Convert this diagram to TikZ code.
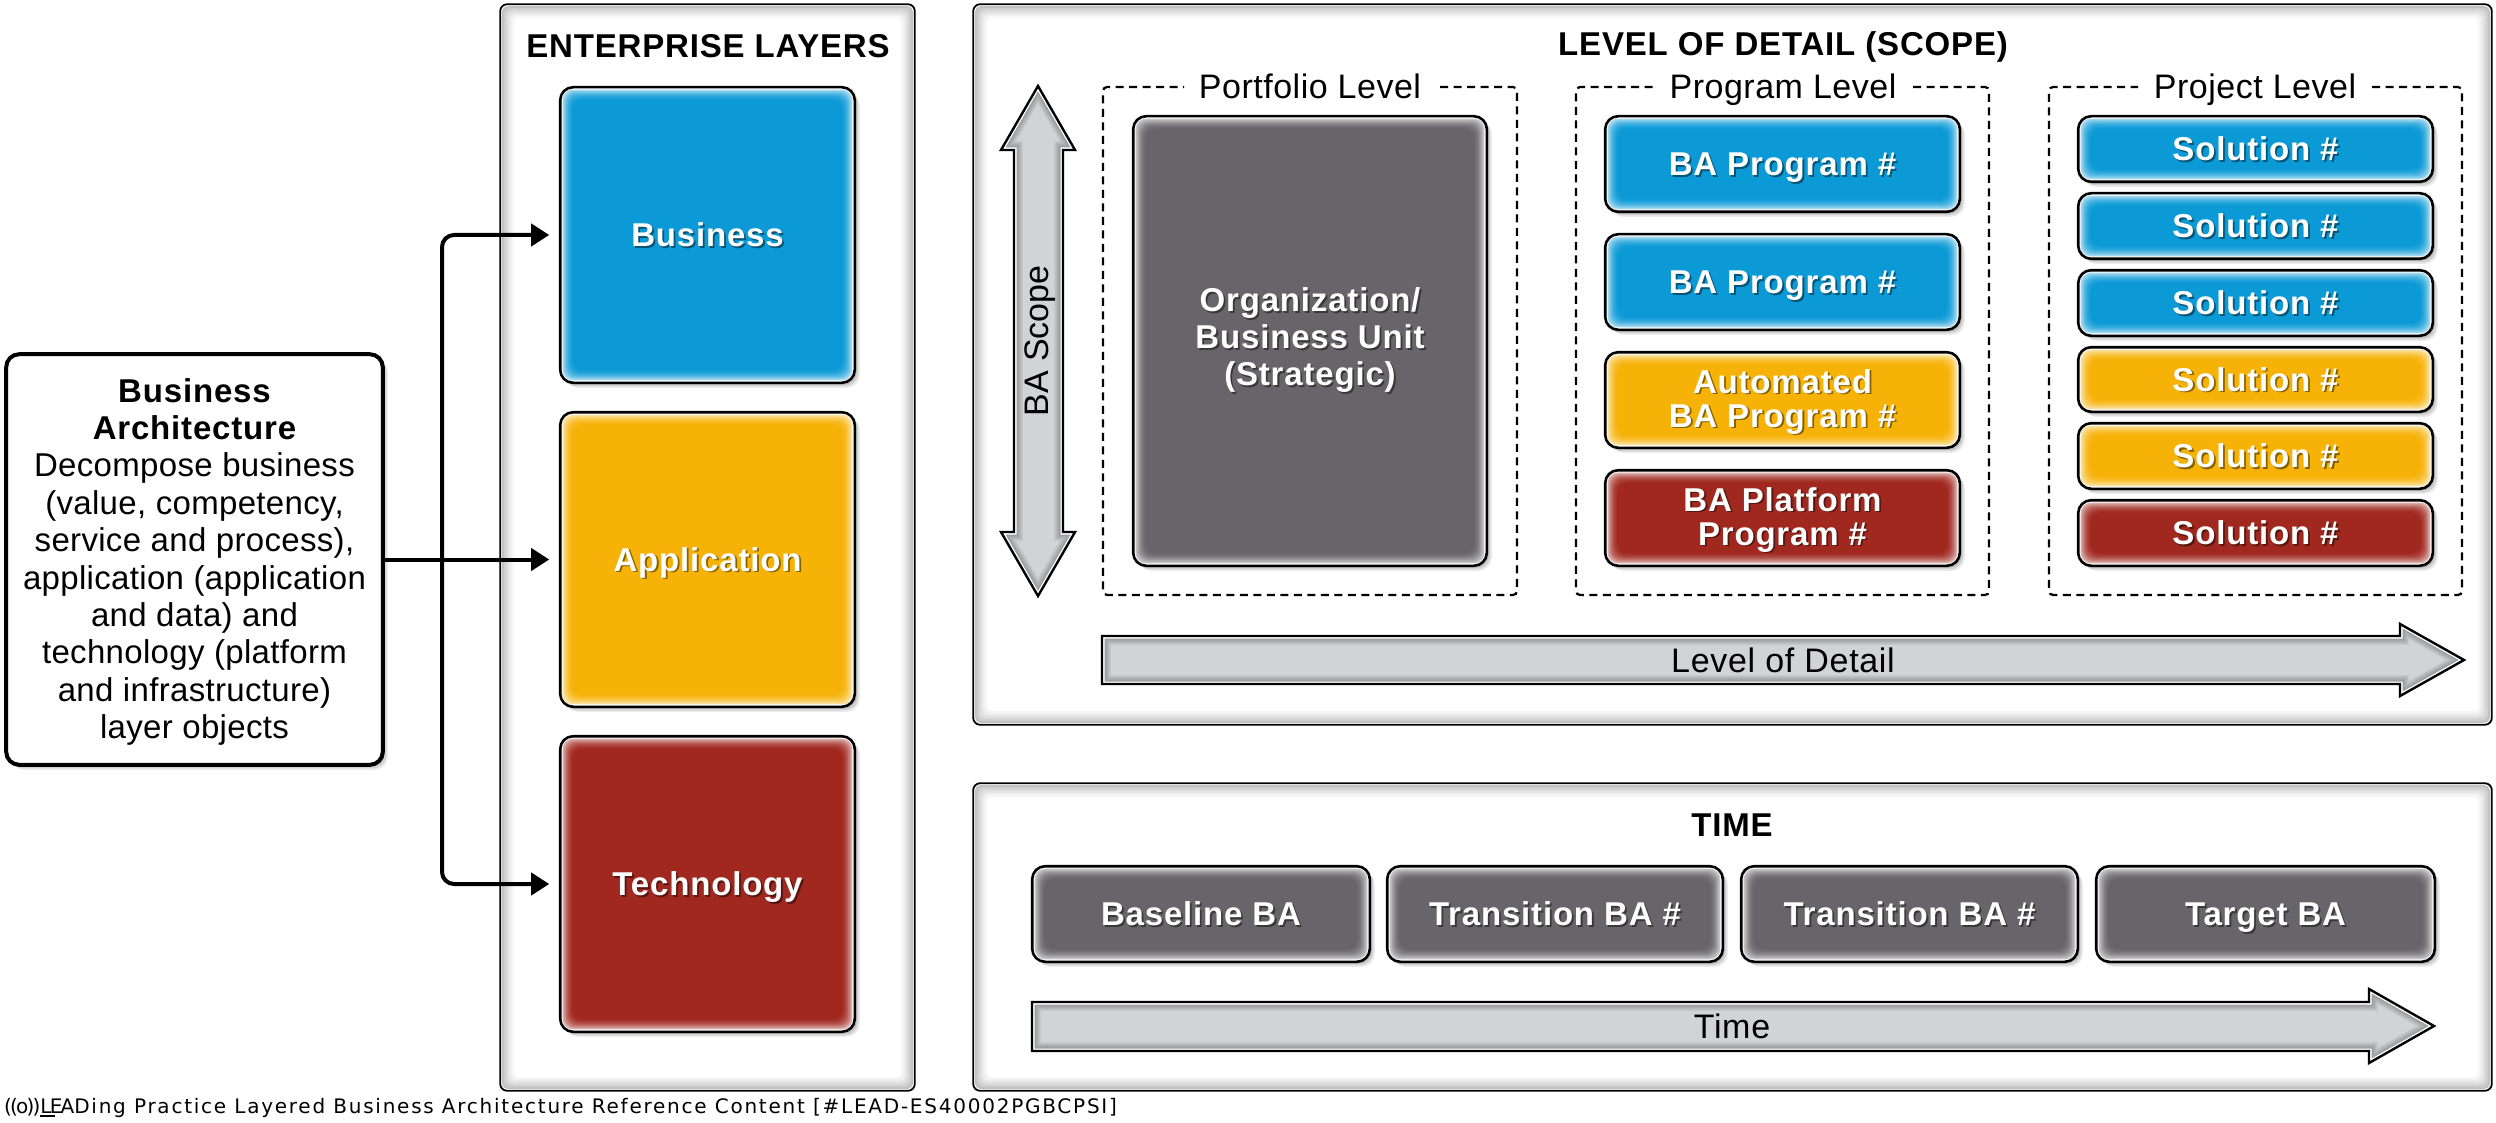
\documentclass[tikz,border=0pt]{standalone}
\usepackage{fontspec}
\usetikzlibrary{arrows.meta,calc}
\setmainfont{Liberation Sans}
\newfontfamily\trk[LetterSpace=2.5]{Liberation Sans}
\newfontfamily\trkb[LetterSpace=1]{Liberation Sans}
\newfontfamily\trkc[LetterSpace=1.5]{Liberation Sans}
\newfontfamily\trkd[LetterSpace=2]{Liberation Sans}
\newfontfamily\footf[LetterSpace=8.8]{DejaVu Sans}
\newfontfamily\logof[LetterSpace=-9]{DejaVu Sans}
\definecolor{cblue}{HTML}{0C9AD7}
\definecolor{cyellow}{HTML}{F6B207}
\definecolor{cred}{HTML}{A0281F}
\definecolor{cgrey}{HTML}{676569}
\definecolor{cbar}{HTML}{D1D3D4}
\colorlet{shd}{black}
\newcommand\sh[1]{\leavevmode\raisebox{0pt}[23pt][0pt]{\rlap{\kern1.8pt\raisebox{-1.8pt}{\textcolor{shd}{#1}}}#1}}
\newcommand\placed[7]{%
  \pgfmathsetmacro\bw{#4-#2-2.4}\pgfmathsetmacro\bh{#5-#3-2.4}%
  \pgfmathsetmacro\cx{(#2+#4)/2}\pgfmathsetmacro\cy{(#3+#5)/2}%
  \node[#6,minimum width=\bw pt,minimum height=\bh pt] (#1) at (\cx,\cy) {#7};}
\newcommand\glossarrow[1]{%
  \begin{scope}
    \clip #1;
    \fill[cbar] #1;
    \foreach \w in {8,10,12,14,16,18}{\draw[line width=\w pt,black,opacity=.045,miter limit=20] #1;}
    \draw[white,line width=5pt,miter limit=20] #1;
  \end{scope}
  \draw[black,line width=2.4pt,line join=miter] #1;}
\newcommand\dashedbox[6]{% x1 x2 gapL gapR y1 y2
  \draw[dashbox] (#4,#5) -- (#2,#5) -- (#2,#6) -- (#1,#6) -- (#1,#5) -- (#3,#5);}
\tikzset{
  lifted/.style={
    preaction={fill=black,opacity=.10,transform canvas={shift={(2pt,-2pt)}}},
    preaction={fill=black,opacity=.10,transform canvas={shift={(3.5pt,-3.5pt)}}},
    preaction={fill=black,opacity=.08,transform canvas={shift={(5pt,-5pt)}}}},
  gloss/.style={lifted,draw=black,line width=2.6pt,rounded corners=13pt,fill=white,
    inner sep=0pt,outer sep=0pt,align=center,text=white,
    font=\trk\bfseries\fontsize{33}{34}\selectfont,
    execute at begin node={\colorlet{shd}{#1!55!black}},
    path picture={
      \foreach \i/\p in {2.5/35,3.5/45,4.5/55,5.5/64,6.5/72,7.5/79,8.5/85,9.5/90,10.5/94,11.5/97,12.5/100}{
        \fill[#1!\p!white,rounded corners=10pt]
          ([shift={(\i pt,-\i pt)}]path picture bounding box.north west) rectangle
          ([shift={(-\i pt,\i pt)}]path picture bounding box.south east);}}},
  panel/.style={draw=black,line width=1.8pt,rounded corners=7pt,fill=white,inner sep=0pt,outer sep=0pt,
    path picture={
      \foreach \i/\p in {2/24,4/19,6/14,8/10,10/6,12/3,14/0}{
        \fill[black!\p!white,rounded corners=5pt]
          ([shift={(\i pt,-\i pt)}]path picture bounding box.north west) rectangle
          ([shift={(-\i pt,\i pt)}]path picture bounding box.south east);}}},
  infobox/.style={lifted,draw=black,line width=4pt,rounded corners=13pt,fill=white,inner sep=0pt,outer sep=0pt,
    align=center,font=\trkb\fontsize{33}{37.4}\selectfont},
  title/.style={font=\trk\bfseries\fontsize{33}{37}\selectfont,inner sep=0pt},
  lvl/.style={font=\trkc\fontsize{34}{38}\selectfont,inner sep=0pt,text height=24pt,text depth=0pt},
  barlabel/.style={font=\trkd\fontsize{34}{38}\selectfont,inner sep=0pt},
  dashbox/.style={draw=black,line width=2.2pt,dash pattern=on 8pt off 5.5pt,rounded corners=4pt},
  conn/.style={draw=black,line width=4pt,-{Triangle[length=18pt,width=22pt]},shorten >=11pt,rounded corners=12pt},
}
\begin{document}
\begin{tikzpicture}[x=1pt,y=-1pt]
\useasboundingbox (0,0) rectangle (2496,1123);
\fill[white] (0,0) rectangle (2496,1123);
% panels
\placed{pEnt}{499}{3}{916}{1092}{panel}{}
\placed{pLod}{972}{3}{2493}{726}{panel}{}
\placed{pTime}{972}{782}{2493}{1092}{panel}{}
\node[title] (tEnt) at (708,46) {ENTERPRISE LAYERS};
\node[title] (tLod) at (1783,47) {LEVEL OF DETAIL (SCOPE)};
\node[title] (tTime) at (1732,825) {TIME};
% layer boxes
\placed{biz}{559}{86}{856}{384}{gloss=cblue}{\sh{Business}}
\placed{app}{559}{411}{856}{708}{gloss=cyellow}{\sh{Application}}
\placed{tec}{559}{735}{856}{1033}{gloss=cred}{\sh{Technology}}
% info box
\placed{ba}{5}{353}{384}{766}{infobox}{\begin{tabular}{@{}c@{}}\rule{0pt}{33pt}{\trk\bfseries Business}\\{\trk\bfseries Architecture}\\Decompose business\\(value, competency,\\service and process),\\application (application\\and data) and\\technology (platform\\and infrastructure)\\layer objects\end{tabular}}
% connectors
\coordinate (branch) at (442,559.5);
\draw[conn] (ba.east) -- (app.west);
\draw[conn] (branch) |- (biz.west);
\draw[conn] (branch) |- (tec.west);
% BA scope arrow
\glossarrow{(1038,86) -- (1075,150) -- (1063,150) -- (1063,532) -- (1075,532) -- (1038,596) -- (1001,532) -- (1014,532) -- (1014,150) -- (1001,150) -- cycle}
\node[rotate=90,inner sep=0pt,font=\fontsize{34}{38}\selectfont,text height=24pt,text depth=0pt] (lScope) at (1036,341) {BA Scope};
% dashed groups
\dashedbox{1103}{1517}{1184}{1440}{87}{595}
\dashedbox{1576}{1989}{1655}{1913}{87}{595}
\dashedbox{2049}{2462}{2138}{2372}{87}{595}
\node[lvl] (lPort) at (1310,87) {Portfolio Level};
\node[lvl] (lProg) at (1783,87) {Program Level};
\node[lvl] (lProj) at (2255,87) {Project Level};
% portfolio
\placed{org}{1132}{115}{1488}{567}{gloss=cgrey}{\fontsize{33}{37}\selectfont\begin{tabular}{@{}c@{}}\sh{Organization/}\\\sh{Business Unit}\\\sh{(Strategic)}\end{tabular}}
% programs
\placed{prg1}{1604}{115}{1961}{213}{gloss=cblue}{\sh{BA Program \#}}
\placed{prg2}{1604}{233}{1961}{331}{gloss=cblue}{\sh{BA Program \#}}
\placed{prg3}{1604}{351}{1961}{449}{gloss=cyellow}{\sh{Automated}\\\sh{BA Program \#}\rule[-3pt]{0pt}{3pt}}
\placed{prg4}{1604}{469}{1961}{567}{gloss=cred}{\sh{BA Platform}\\\sh{Program \#}\rule[-3pt]{0pt}{3pt}}
% solutions
\placed{sol1}{2077}{115}{2434}{183}{gloss=cblue}{\sh{Solution \#}}
\placed{sol2}{2077}{192}{2434}{260}{gloss=cblue}{\sh{Solution \#}}
\placed{sol3}{2077}{269}{2434}{337}{gloss=cblue}{\sh{Solution \#}}
\placed{sol4}{2077}{346}{2434}{413}{gloss=cyellow}{\sh{Solution \#}}
\placed{sol5}{2077}{422}{2434}{490}{gloss=cyellow}{\sh{Solution \#}}
\placed{sol6}{2077}{499}{2434}{567}{gloss=cred}{\sh{Solution \#}}
% level of detail arrow
\glossarrow{(1102,636) -- (2400,636) -- (2400,624) -- (2464,660) -- (2400,696) -- (2400,684) -- (1102,684) -- cycle}
\node[barlabel] (lDet) at (1783,660) {Level of Detail};
% time
\placed{t1}{1031}{865}{1371}{963}{gloss=cgrey}{\sh{Baseline BA}}
\placed{t2}{1386}{865}{1724}{963}{gloss=cgrey}{\sh{Transition BA \#}}
\placed{t3}{1740}{865}{2079}{963}{gloss=cgrey}{\sh{Transition BA \#}}
\placed{t4}{2095}{865}{2436}{963}{gloss=cgrey}{\sh{Target BA}}
\glossarrow{(1032,1002) -- (2369,1002) -- (2369,989) -- (2434,1026) -- (2369,1063) -- (2369,1051) -- (1032,1051) -- cycle}
\node[barlabel] (lTime) at (1732,1026) {Time};
% footer
\node[anchor=west,inner sep=0pt,font=\footf\fontsize{20}{24}\selectfont] (foot) at (4,1108) {{\logof\fontsize{20}{24}\selectfont((o))\rlap{\rule[-3pt]{15pt}{1.4pt}}LEA}Ding Practice Layered Business Architecture Reference Content [\#LEAD-ES40002PGBCPSI]};
\end{tikzpicture}
\end{document}
